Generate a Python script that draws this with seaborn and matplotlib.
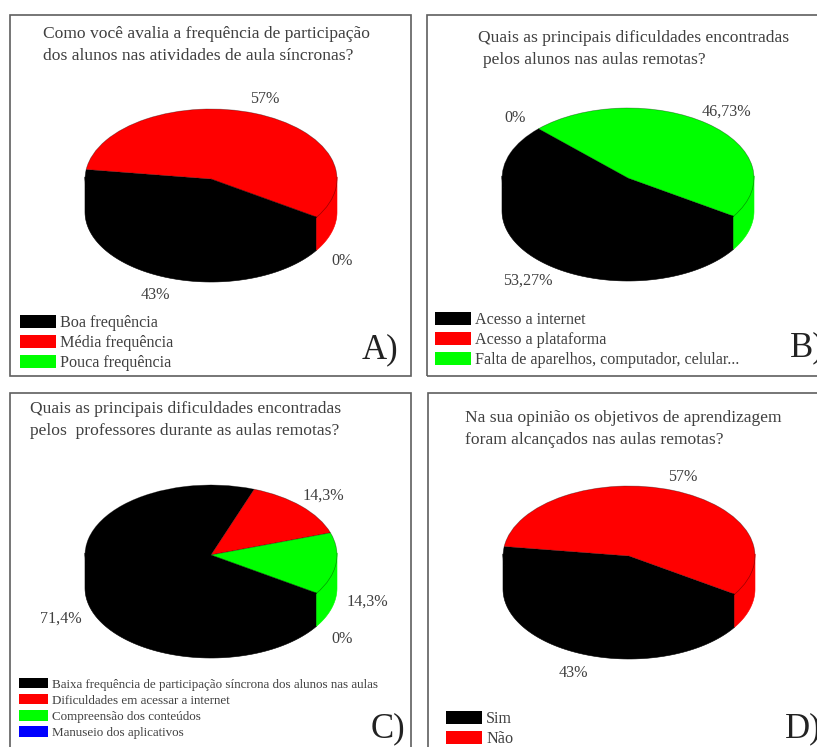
import numpy as np
import matplotlib
matplotlib.use("Agg")
import matplotlib.pyplot as plt
from matplotlib.patches import Patch, Rectangle
import seaborn as sns

# Survey answers (percent) per question
values_a = [43, 57, 0]
values_b = [53.27, 0, 46.73]
values_c = [71.4, 14.3, 14.3, 0]
values_d = [43, 57]

legend_a = ["Boa frequência", "Média frequência", "Pouca frequência"]
legend_b = ["Acesso a internet", "Acesso a plataforma", "Falta de aparelhos, computador, celular..."]
legend_c = ["Baixa frequência de participação síncrona dos alunos nas aulas",
            "Dificuldades em acessar a internet", "Compreensão dos conteúdos",
            "Manuseio dos aplicativos"]
legend_d = ["Sim", "Não"]

title_a = ["Como você avalia a frequência de participação",
           "dos alunos nas atividades de aula síncronas?"]
title_b = ["Quais as principais dificuldades encontradas",
           "pelos alunos nas aulas remotas?"]
title_c = ["Quais as principais dificuldades encontradas",
           "pelos  professores durante as aulas remotas?"]
title_d = ["Na sua opinião os objetivos de aprendizagem",
           "foram alcançados nas aulas remotas?"]

W, H = 817, 747
INK = "#404040"
sns.set_theme(style="white")
plt.rcParams["font.family"] = ["Liberation Serif", "DejaVu Serif"]
palette = sns.color_palette(["#000000", "#ff0000", "#00ff00", "#0000ff"])

START = -33          # where the first slice begins, degrees
RX, RY, DEPTH = 126, 70, 33

panels = [
    dict(values=values_a, legend=legend_a, title=title_a, letter="A)",
         frame=(10, 15, 411, 376), centre=(211, 179),
         title_xy=[(43, 38), (43, 60)], title_size=12.6,
         label_xy=[(265, 99), (155, 295), (342, 261)],
         label_order=[1, 0, 2],
         leg=dict(x=20, y=315, w=36, h=14, pitch=18, size=11.6, colors=3),
         letter_xy=(362, 358)),
    dict(values=values_b, legend=legend_b, title=title_b, letter="B)",
         frame=(426.5, 15, 830, 376), centre=(628, 178),
         title_xy=[(478, 42), (483, 64)], title_size=12.6,
         label_xy=[(528, 281), (515, 118), (726, 112)],
         label_order=[0, 1, 2],
         leg=dict(x=435, y=312, w=36, h=14, pitch=18, size=11.6, colors=3),
         letter_xy=(790, 356)),
    dict(values=values_c, legend=legend_c, title=title_c, letter="C)",
         frame=(10, 393, 411, 760), centre=(211, 555),
         title_xy=[(30, 413), (30, 435)], title_size=12.6,
         label_xy=[(61, 619), (323, 496), (367, 602), (342, 639)],
         label_order=[0, 1, 2, 3],
         leg=dict(x=19, y=678, w=29, h=11, pitch=14.4, size=9.4, colors=4),
         letter_xy=(371, 737)),
    dict(values=values_d, legend=legend_d, title=title_d, letter="D)",
         frame=(428, 393, 830, 760), centre=(629, 556),
         title_xy=[(465, 422), (465, 444)], title_size=12.6,
         label_xy=[(573, 673), (683, 477)],
         label_order=[0, 1],
         leg=dict(x=446, y=711, w=36, h=14, pitch=18, size=11.6, colors=2),
         letter_xy=(785, 737)),
]


def fx(x):
    return x / W


def fy(y):
    return 1 - y / H


def slice_walls(ax, values, colors, depth):
    """Draw the outer side of the disc, one band per slice, on its front half."""
    total = sum(values)
    start = START
    for value, color in zip(values, colors):
        end = start - value / total * 360
        for low, high in ((-180, 0), (-540, -360)):
            a, b = max(end, low), min(start, high)
            if b <= a:
                continue
            t = np.radians(np.linspace(a, b, 80))
            x, y = np.cos(t), np.sin(t)
            # the band runs slightly under the top face so no seam shows
            ax.fill(np.r_[x, x[::-1]], np.r_[y + 0.03, y[::-1] - depth],
                    color=color, lw=0.4, clip_on=False, zorder=1)
        start = end


fig = plt.figure(figsize=(W / 100, H / 100), dpi=100, facecolor="white")

for p in panels:
    x0, y0, x1, y1 = p["frame"]
    fig.add_artist(Rectangle((fx(x0), fy(y1)), fx(x1 - x0), (y1 - y0) / H,
                             transform=fig.transFigure, fill=False,
                             edgecolor="#5f5f5f", linewidth=1.2))

    cx, cy = p["centre"]
    depth = DEPTH / RY
    ax = fig.add_axes([fx(cx - RX), fy(cy + RY + DEPTH), 2 * RX / W,
                       (2 * RY + DEPTH) / H])
    colors = palette[: len(p["values"])]
    slice_walls(ax, p["values"], colors, depth)
    ax.pie(p["values"], colors=colors, startangle=START, counterclock=False,
           wedgeprops=dict(edgecolor=(0, 0, 0, 0.4), linewidth=0.5, zorder=2))
    ax.set_aspect("auto")
    ax.set_xlim(-1, 1)
    ax.set_ylim(-1 - depth, 1)

    for (tx, ty), line in zip(p["title_xy"], p["title"]):
        fig.text(fx(tx), fy(ty), line, fontsize=p["title_size"], color=INK,
                 ha="left", va="baseline")

    for (lx, ly), i in zip(p["label_xy"], p["label_order"]):
        text = f"{p['values'][i]:g}%".replace(".", ",")
        fig.text(fx(lx), fy(ly), text, fontsize=11.6, color=INK,
                 ha="center", va="center")

    leg = p["leg"]
    size = leg["size"]
    pt = 0.72 / size
    handles = [Patch(facecolor=c, edgecolor="none") for c in palette[: leg["colors"]]]
    fig.legend(handles, p["legend"], loc="upper left",
               bbox_to_anchor=(fx(leg["x"]), fy(leg["y"])),
               frameon=False, prop=dict(size=size), labelcolor=INK,
               borderpad=0, borderaxespad=0, handletextpad=4 * pt,
               handlelength=leg["w"] * pt, handleheight=leg["h"] * pt,
               labelspacing=(leg["pitch"] - leg["h"]) * pt)

    fig.text(fx(p["letter_xy"][0]), fy(p["letter_xy"][1]), p["letter"],
             fontsize=25, color="#222222", ha="left", va="baseline")

fig.savefig("out.png", dpi=100)
